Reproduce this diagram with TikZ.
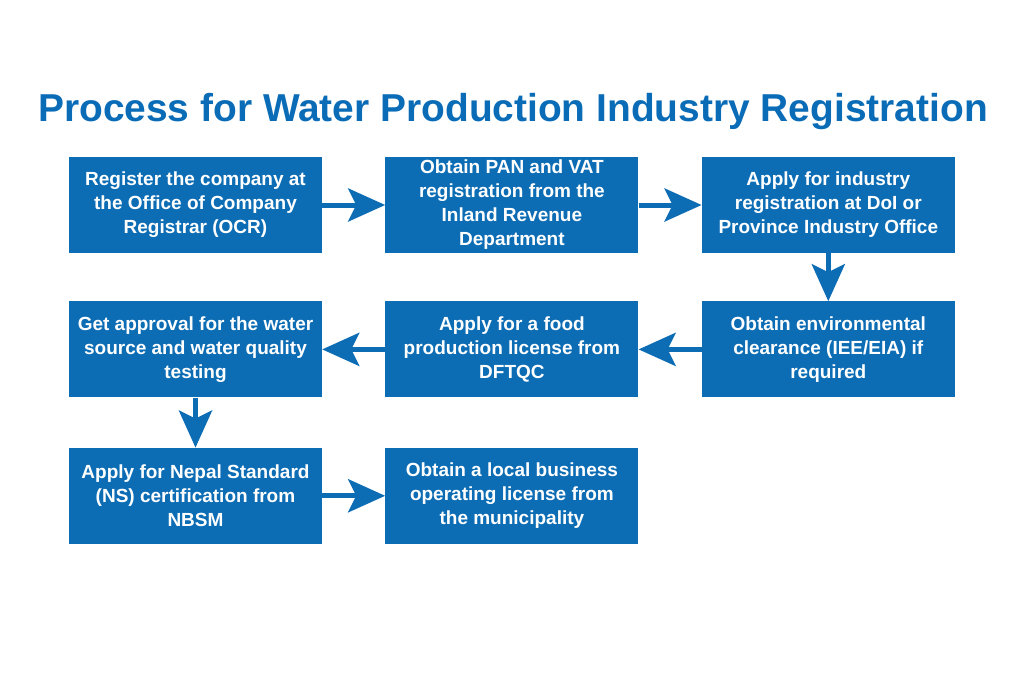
\documentclass[tikz,border=0pt]{standalone}
\usepackage{fontspec}
\setmainfont{Liberation Sans}
\usepackage{tikz}
\usetikzlibrary{positioning}
\usetikzlibrary{arrows.meta}
\definecolor{stepblue}{RGB}{12,108,180}
\definecolor{titleblue}{RGB}{10,108,182}
\tikzset{flow/.style = {-{Stealth[length=37bp,width=33bp,inset=8bp]}, line width=5bp, color=stepblue}}

\begin{document}
\begin{tikzpicture}[node distance=48bp and 63bp,
    stage/.style={rectangle,fill=stepblue,text=white,minimum width=253bp,minimum height=96bp,inner sep=0pt,align=center,font=\fontsize{19bp}{24bp}\selectfont\bfseries}]
            \useasboundingbox (0,0) rectangle (1024bp,-683bp);
            \node[font=\fontsize{38.9bp}{44bp}\selectfont\bfseries,text=titleblue] (title) at (513bp,-112bp) {Process for Water Production Industry Registration};
            \node[stage] (ocr) at (195.5bp,-205bp) {Register the company at\\the Office of Company\\Registrar (OCR)};
            \node[stage] (pan) [right=of ocr] {Obtain PAN and VAT\\registration from the\\Inland Revenue\\Department};
            \node[stage] (doi) [right=of pan] {Apply for industry\\registration at DoI or\\Province Industry Office};
            \node[stage] (env) [below=of doi] {Obtain environmental\\clearance (IEE/EIA) if\\required};
            \node[stage] (food) [left=of env] {Apply for a food\\production license from\\DFTQC};
            \node[stage] (water) [left=of food] {Get approval for the water\\source and water quality\\testing};
            \node[stage] (nbsm) [below=50bp of water] {Apply for Nepal Standard\\(NS) certification from\\NBSM};
            \node[stage] (local) [right=of nbsm] {Obtain a local business\\operating license from\\the municipality};
            \path[flow]
                (ocr) edge (pan)
                (pan) edge (doi)
                (doi) edge (env)
                (env) edge (food)
                (food) edge (water)
                (water) edge (nbsm)
                (nbsm) edge (local);
        \end{tikzpicture}
\end{document}
